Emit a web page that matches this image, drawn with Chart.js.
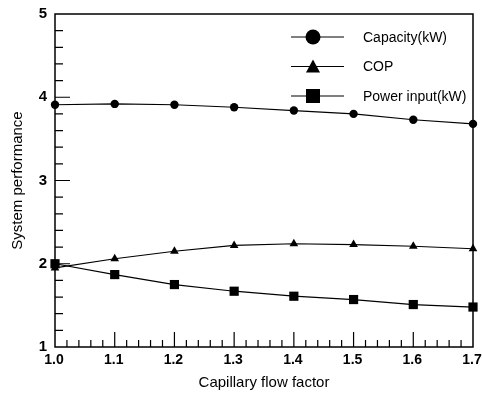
<!DOCTYPE html>
<html>
<head>
<meta charset="utf-8">
<script src="https://cdn.jsdelivr.net/npm/chart.js@4/dist/chart.umd.min.js"></script>
<style>
  html, body { margin: 0; padding: 0; background: #fff; }
  #wrap { width: 482px; height: 404px; position: relative; }
</style>
</head>
<body>
<div id="wrap"><canvas id="c" width="482" height="404"></canvas></div>
<script>
// ---- data ----
const flowFactor = [1.0, 1.1, 1.2, 1.3, 1.4, 1.5, 1.6, 1.7];
const capacity   = [3.91, 3.92, 3.91, 3.88, 3.84, 3.80, 3.73, 3.68];
const cop        = [1.95, 2.06, 2.15, 2.22, 2.24, 2.23, 2.21, 2.18];
const powerInput = [2.00, 1.87, 1.75, 1.67, 1.61, 1.57, 1.51, 1.48];
const seriesLabels = ['Capacity(kW)', 'COP', 'Power input(kW)'];
const yTicks = [1, 2, 3, 4, 5];
const xTicks = [1.0, 1.1, 1.2, 1.3, 1.4, 1.5, 1.6, 1.7];

const FONT = "'Liberation Sans', Arial, sans-serif";

function pts(ys) { return flowFactor.map((x, i) => ({ x: x, y: ys[i] })); }

// frame, inward ticks, in-plot legend
const decorPlugin = {
  id: 'decor',
  afterDraw(chart) {
    const ctx = chart.ctx, a = chart.chartArea;
    const xs = chart.scales.x, ys = chart.scales.y;
    ctx.save();
    ctx.strokeStyle = '#000';
    ctx.lineWidth = 1.5;
    ctx.strokeRect(a.left, a.top, a.right - a.left, a.bottom - a.top);
    ctx.lineWidth = 1.2;
    ctx.beginPath();
    // x ticks: major every 0.1, minor every 0.02
    for (let k = 1; k < 35; k++) {
      const px = xs.getPixelForValue(1.0 + k * 0.02);
      const len = (k % 5 === 0) ? 15 : 7;
      ctx.moveTo(px, a.bottom);
      ctx.lineTo(px, a.bottom - len);
    }
    // y ticks: major every 1, minor every 0.2
    for (let k = 1; k < 20; k++) {
      const py = ys.getPixelForValue(1 + k * 0.2);
      const len = (k % 5 === 0) ? 15 : 8;
      ctx.moveTo(a.left, py);
      ctx.lineTo(a.left + len, py);
    }
    ctx.stroke();

    // legend
    const styles = ['circle', 'triangle', 'rect'];
    ctx.font = '14px ' + FONT;
    ctx.textBaseline = 'middle';
    ctx.textAlign = 'left';
    ctx.fillStyle = '#000';
    chart.data.datasets.forEach((ds, i) => {
      const y = a.top + 23 + i * 29.5;
      const x0 = a.right - 182, x1 = a.right - 129, mx = a.right - 160;
      ctx.lineWidth = 1.2;
      ctx.beginPath();
      ctx.moveTo(x0, y); ctx.lineTo(x1, y); ctx.stroke();
      ctx.beginPath();
      if (styles[i] === 'circle') {
        ctx.arc(mx, y, 7.5, 0, Math.PI * 2);
      } else if (styles[i] === 'triangle') {
        ctx.moveTo(mx, y - 7);
        ctx.lineTo(mx + 7, y + 6);
        ctx.lineTo(mx - 7, y + 6);
        ctx.closePath();
      } else {
        ctx.rect(mx - 7, y - 7, 14, 14);
      }
      ctx.fill();
      ctx.fillText(ds.label, a.right - 110, y + 1);
    });
    ctx.restore();
  }
};

const common = {
  borderColor: '#000', backgroundColor: '#000',
  pointBackgroundColor: '#000', pointBorderColor: '#000',
  borderWidth: 1.2, pointBorderWidth: 0, tension: 0, fill: false,
  clip: false
};

new Chart(document.getElementById('c'), {
  type: 'line',
  data: {
    datasets: [
      Object.assign({ label: seriesLabels[0], data: pts(capacity),   pointStyle: 'circle',   pointRadius: 4.2 }, common),
      Object.assign({ label: seriesLabels[1], data: pts(cop),        pointStyle: 'triangle', pointRadius: 5 }, common),
      Object.assign({ label: seriesLabels[2], data: pts(powerInput), pointStyle: 'rect',     pointRadius: 6.5 }, common)
    ]
  },
  options: {
    responsive: false,
    animation: false,
    layout: { padding: { top: 14, right: 9, left: 0, bottom: 0 } },
    plugins: { legend: { display: false }, tooltip: { enabled: false } },
    scales: {
      x: {
        type: 'linear', min: 1.0, max: 1.7,
        afterBuildTicks(s) { s.ticks = xTicks.map(v => ({ value: v })); },
        afterFit(s) { s.height = 57; s.paddingLeft = 0; s.paddingRight = 0; },
        grid: { display: false, drawTicks: false },
        border: { display: false },
        ticks: {
          padding: 5, color: '#000', maxRotation: 0, autoSkip: false, labelOffset: -1,
          font: { family: FONT, size: 14, weight: 'bold' },
          callback: v => Number(v).toFixed(1)
        },
        title: {
          display: true, text: 'Capillary flow factor', color: '#000',
          font: { family: FONT, size: 15 }, padding: { top: 0, bottom: 12 }
        }
      },
      y: {
        type: 'linear', min: 1, max: 5,
        afterBuildTicks(s) { s.ticks = yTicks.map(v => ({ value: v })); },
        afterFit(s) { s.width = 55; s.paddingTop = 0; s.paddingBottom = 0; },
        grid: { display: false, drawTicks: false },
        border: { display: false },
        ticks: {
          padding: 8, color: '#000',
          font: { family: FONT, size: 15, weight: 'bold' },
          callback: v => String(v)
        },
        title: {
          display: true, text: 'System performance', color: '#000',
          font: { family: FONT, size: 15 }, padding: { top: 9, bottom: 0 }
        }
      }
    }
  },
  plugins: [decorPlugin]
});
</script>
</body>
</html>
